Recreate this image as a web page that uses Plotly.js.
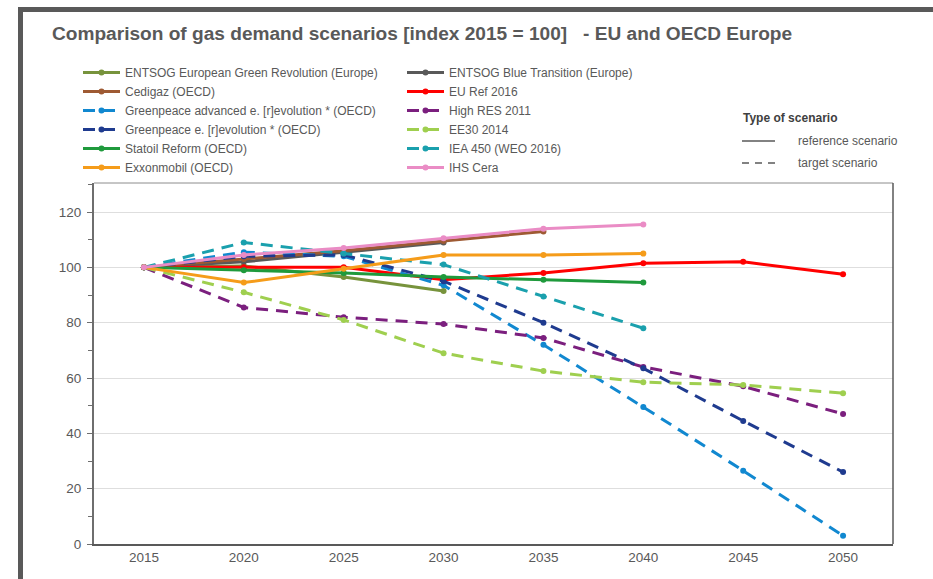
<!DOCTYPE html>
<html>
<head>
<meta charset="utf-8">
<script src="https://cdn.plot.ly/plotly-3.0.1.min.js"></script>
<style>
  html, body { margin: 0; padding: 0; background: #ffffff; }
  #wrap { position: relative; width: 933px; height: 579px; overflow: hidden; }
  #chart { width: 933px; height: 579px; }
  #frame {
    position: absolute; left: 18px; top: 7px; width: 940px; height: 600px;
    border-left: 5px solid #595959; border-top: 5px solid #595959;
    pointer-events: none;
  }
</style>
</head>
<body>
<div id="wrap">
  <div id="chart"></div>
  <div id="frame"></div>
</div>
<script>
// Gas demand scenarios, index 2015 = 100
const years = [2015, 2020, 2025, 2030, 2035, 2040, 2045, 2050];

const entsogGreen  = [100, 100.5, 96.5, 91.5];
const entsogBlue   = [100, 102, 105.5, 109];
const cedigaz      = [100, 103, 106, 109.5, 113];
const euRef2016    = [100, 100, 100, 95.5, 98, 101.5, 102, 97.5];
const gpAdvanced   = [100, 105.5, 104, 93.5, 72, 49.5, 26.5, 3];
const highRes2011  = [100, 85.5, 82, 79.5, 74.5, 64, 57, 47];
const gpRevolution = [100, 104, 104.5, 95, 80, 63.5, 44.5, 26];
const ee30         = [100, 91, 81, 69, 62.5, 58.5, 57.5, 54.5];
const statoil      = [100, 99, 98, 96.5, 95.5, 94.5];
const iea450       = [100, 109, 105, 101, 89.5, 78];
const exxon        = [100, 94.5, 99.5, 104.5, 104.5, 105];
const ihsCera      = [100, 104.5, 107, 110.5, 114, 115.5];

const seriesNames = [
  'ENTSOG European Green Revolution (Europe)',
  'ENTSOG Blue Transition (Europe)',
  'Cedigaz (OECD)',
  'EU Ref 2016',
  'Greenpeace advanced e. [r]evolution * (OECD)',
  'High RES 2011',
  'Greenpeace e. [r]evolution * (OECD)',
  'EE30 2014',
  'Statoil Reform (OECD)',
  'IEA 450 (WEO 2016)',
  'Exxonmobil (OECD)',
  'IHS Cera'
];
const seriesValues = [entsogGreen, entsogBlue, cedigaz, euRef2016, gpAdvanced, highRes2011,
                      gpRevolution, ee30, statoil, iea450, exxon, ihsCera];
const seriesColors = ['#77933c', '#595959', '#9e5a33', '#ff0000', '#1188d0', '#7b1f7e',
                      '#1f3b8f', '#9fcf4f', '#1f9a3c', '#1aa0ad', '#f59c1a', '#ea8cc5'];
const targetScenario = [false, false, false, false, true, true, true, true, false, true, false, false];

const keyTitle = 'Type of scenario';
const scenarioTypes = ['reference scenario', 'target scenario'];

const FONT = 'Liberation Sans, Arial, sans-serif';
const GREY = '#595959';
const DASH = '12px,8px';

const traces = seriesNames.map((name, i) => ({
  type: 'scatter',
  mode: 'lines+markers',
  name: name,
  x: years.slice(0, seriesValues[i].length),
  y: seriesValues[i],
  line: { color: seriesColors[i], width: 3, dash: targetScenario[i] ? DASH : 'solid' },
  marker: { color: seriesColors[i], size: 6, symbol: 'circle' },
  hoverinfo: 'x+y+name'
}));

// plot area: x 94..893 px, y 183..544 px
const L = 94, R = 40, T = 183, B = 35, W = 933, H = 579;
const pw = W - L - R, ph = H - T - B;
const px = v => (v - L) / pw;
const py = v => (H - B - v) / ph;

// key explaining solid vs dashed lines
const keyX0 = 742, keyX1 = 775, keyTextX = 796;
const keyRows = [141, 163];
const keyShapes = scenarioTypes.map((label, i) => ({
  type: 'line', xref: 'paper', yref: 'paper',
  x0: px(keyX0), x1: px(keyX1), y0: py(keyRows[i]), y1: py(keyRows[i]),
  line: { color: GREY, width: 1.5, dash: i === 0 ? 'solid' : '7px,6px' }
}));
const keyAnnotations = [
  { text: '<b>' + keyTitle + '</b>', x: px(keyX0 - 1), y: py(118),
    font: { family: FONT, size: 12, color: '#404040' } }
].concat(scenarioTypes.map((label, i) => ({
  text: label, x: px(keyTextX), y: py(keyRows[i]),
  font: { family: FONT, size: 12, color: GREY }
}))).map(a => Object.assign({
  xref: 'paper', yref: 'paper', xanchor: 'left', yanchor: 'middle', showarrow: false
}, a));

const layout = {
  width: W,
  height: H,
  margin: { l: L, r: R, t: T, b: B, pad: 0 },
  paper_bgcolor: '#ffffff',
  plot_bgcolor: '#ffffff',
  font: { family: FONT, color: GREY, size: 12 },
  title: {
    text: '<b>Comparison of gas demand scenarios [index 2015 = 100]   - EU and OECD Europe</b>',
    font: { family: FONT, size: 19.1, color: GREY },
    x: 52 / W, xanchor: 'left', xref: 'container',
    y: 1 - 33 / H, yanchor: 'middle', yref: 'container'
  },
  xaxis: {
    range: [2012.5, 2052.5],
    tickvals: years,
    ticktext: years.map(String),
    showgrid: false,
    zeroline: false,
    showline: true,
    linecolor: GREY,
    linewidth: 2,
    ticks: '',
    tickfont: { family: FONT, size: 13.5, color: GREY },
    fixedrange: true
  },
  yaxis: {
    range: [0, 130.5],
    tick0: 0,
    dtick: 20,
    showgrid: true,
    gridcolor: '#dedede',
    gridwidth: 1,
    zeroline: false,
    showline: true,
    linecolor: '#6e6e6e',
    linewidth: 2,
    ticks: 'outside',
    ticklen: 5,
    tickcolor: '#6e6e6e',
    tickwidth: 1,
    ticklabelstandoff: 3,
    minor: { dtick: 10, ticks: 'outside', ticklen: 4, tickcolor: '#6e6e6e', showgrid: false },
    tickfont: { family: FONT, size: 13.5, color: GREY },
    fixedrange: true
  },
  legend: {
    orientation: 'h',
    x: px(78), xanchor: 'left',
    y: py(58), yanchor: 'top',
    itemwidth: 37,
    entrywidth: 272,
    font: { family: FONT, size: 12, color: GREY },
    bgcolor: 'rgba(0,0,0,0)',
    borderwidth: 0,
    traceorder: 'normal'
  },
  shapes: [
    // top and right edges of the plot box
    { type: 'line', xref: 'paper', yref: 'paper', x0: 0, x1: 1, y0: 1, y1: 1,
      line: { color: '#8c8c8c', width: 1 } },
    { type: 'line', xref: 'paper', yref: 'paper', x0: 1, x1: 1, y0: 0, y1: 1,
      line: { color: GREY, width: 1.5 } }
  ].concat(keyShapes),
  annotations: keyAnnotations,
  hovermode: 'closest'
};

Plotly.newPlot('chart', traces, layout, { displayModeBar: false, staticPlot: true });
</script>
</body>
</html>
